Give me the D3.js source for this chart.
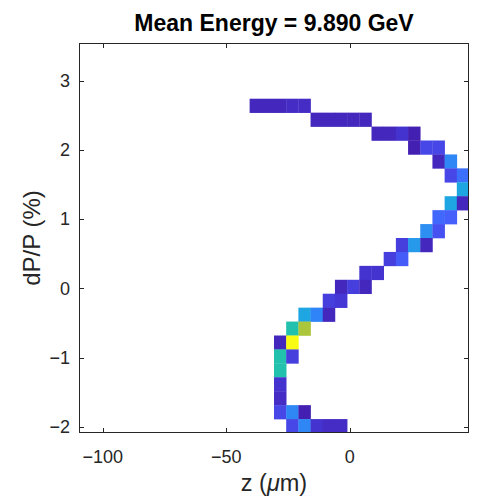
<!DOCTYPE html>
<html>
<head>
<meta charset="utf-8">
<script src="https://cdn.jsdelivr.net/npm/d3@7"></script>
<style>
  body { margin: 0; background: #fff; }
  svg { display: block; font-family: "Liberation Sans", Arial, Helvetica, sans-serif; }
</style>
</head>
<body>
<svg id="chart" width="487" height="504"></svg>
<script>
// histogram grid (imagesc covers the whole axes)
const zRange = [-109.6, 48.3];   // um
const pRange = [-2.09, 3.545];   // %
const nZ = 32;
const nP = 28;

const xTicks = [-100, -50, 0];
const yTicks = [-2, -1, 0, 1, 2, 3];

// non-empty cells: z bin index, dP/P bin index (0 = bottom), count
const cellIz = [
  14, 15, 16, 17, 18,
  19, 20, 21, 22, 23,
  24, 25, 26, 27,
  27, 28, 29,
  29, 30,
  30, 31,
  31,
  30, 31,
  29, 30,
  28, 29,
  26, 27, 28,
  25, 26,
  23, 24,
  21, 22, 23,
  20, 21,
  18, 19, 20,
  17, 18,
  16, 17,
  16, 17,
  16,
  16,
  16,
  16, 17, 18,
  17, 18, 19, 20, 21
];
const cellIp = [
  23, 23, 23, 23, 23,
  22, 22, 22, 22, 22,
  21, 21, 21, 21,
  20, 20, 20,
  19, 19,
  18, 18,
  17,
  16, 16,
  15, 15,
  14, 14,
  13, 13, 13,
  12, 12,
  11, 11,
  10, 10, 10,
  9, 9,
  8, 8, 8,
  7, 7,
  6, 6,
  5, 5,
  4,
  3,
  2,
  1, 1, 1,
  0, 0, 0, 0, 0
];
const cellCount = [
  7, 7, 7, 8, 8,
  7, 7, 7, 7, 7,
  7, 7, 10, 5,
  5, 15, 15,
  7, 32,
  15, 26,
  41,
  41, 7,
  24, 22,
  34, 18,
  13, 37, 7,
  13, 21,
  10, 10,
  7, 13, 7,
  13, 11,
  41, 31, 7,
  54, 72,
  7, 100,
  54, 13,
  54,
  10,
  8,
  15, 32, 5,
  15, 32, 10, 8, 8
];

// parula colormap stops
const parula = [
  [68, 32, 178], [69, 55, 213], [72, 77, 240], [69, 99, 253], [50, 124, 252],
  [43, 145, 239], [32, 165, 227], [8, 181, 208], [25, 191, 182], [55, 200, 151],
  [100, 205, 111], [157, 201, 67], [209, 191, 39], [248, 186, 61], [252, 207, 48],
  [246, 239, 32], [249, 251, 21]
];

const svg = d3.select("#chart");
const margin = { left: 79, right: 469, top: 43, bottom: 433 };
const ink = "#262626";

const x = d3.scaleLinear().domain(zRange).range([margin.left, margin.right]);
const y = d3.scaleLinear().domain(pRange).range([margin.bottom, margin.top]);

// bin index -> pixel (reversed range for y so index 0 is at the bottom)
const xBand = d3.scaleBand().domain(d3.range(nZ)).range([margin.left, margin.right]);
const yBand = d3.scaleBand().domain(d3.range(nP)).range([margin.bottom, margin.top]);

const cMin = d3.min(cellCount), cMax = d3.max(cellCount);
const stopT = parula.map((d, i) => cMin + (cMax - cMin) * i / (parula.length - 1));
const color = d3.scaleLinear()
  .domain(stopT)
  .range(parula.map(c => d3.rgb(c[0], c[1], c[2])))
  .interpolate(d3.interpolateRgb);

svg.append("clipPath").attr("id", "clip")
  .append("rect")
  .attr("x", margin.left).attr("y", margin.top)
  .attr("width", margin.right - margin.left)
  .attr("height", margin.bottom - margin.top);

const cells = cellCount.map((n, i) => ({ iz: cellIz[i], ip: cellIp[i], n }));

svg.append("g")
  .attr("clip-path", "url(#clip)")
  .selectAll("rect")
  .data(cells)
  .join("rect")
  .attr("x", d => xBand(d.iz))
  .attr("y", d => yBand(d.ip))
  .attr("width", xBand.bandwidth() + 0.3)
  .attr("height", yBand.bandwidth() + 0.3)
  .attr("fill", d => color(d.n));

// axes box + inward ticks on all four sides
const tickLen = 5;
const axes = svg.append("g").attr("stroke", ink).attr("fill", "none").attr("stroke-width", 1);
axes.append("rect")
  .attr("x", margin.left + 0.5).attr("y", margin.top + 0.5)
  .attr("width", margin.right - margin.left - 1)
  .attr("height", margin.bottom - margin.top - 1);

xTicks.forEach(t => {
  const px = Math.round(x(t)) + 0.5;
  axes.append("line").attr("x1", px).attr("x2", px).attr("y1", margin.bottom).attr("y2", margin.bottom - tickLen);
  axes.append("line").attr("x1", px).attr("x2", px).attr("y1", margin.top).attr("y2", margin.top + tickLen);
});
yTicks.forEach(t => {
  const py = Math.round(y(t)) + 0.5;
  axes.append("line").attr("x1", margin.left).attr("x2", margin.left + tickLen).attr("y1", py).attr("y2", py);
  axes.append("line").attr("x1", margin.right).attr("x2", margin.right - tickLen).attr("y1", py).attr("y2", py);
});

const fmt = v => (v < 0 ? "\u2212" : "") + Math.abs(v);

svg.append("g").selectAll("text")
  .data(xTicks)
  .join("text")
  .attr("x", d => x(d))
  .attr("y", 463)
  .attr("text-anchor", "middle")
  .attr("font-size", 18)
  .attr("fill", ink)
  .text(fmt);

svg.append("g").selectAll("text")
  .data(yTicks)
  .join("text")
  .attr("x", 70)
  .attr("y", d => y(d))
  .attr("dy", "0.35em")
  .attr("text-anchor", "end")
  .attr("font-size", 18)
  .attr("fill", ink)
  .text(fmt);

// labels
const xl = svg.append("text")
  .attr("x", (margin.left + margin.right) / 2)
  .attr("y", 491)
  .attr("text-anchor", "middle")
  .attr("font-size", 23.5)
  .attr("fill", ink);
xl.append("tspan").text("z (");
xl.append("tspan").attr("font-style", "italic").text("\u03bc");
xl.append("tspan").text("m)");

svg.append("text")
  .attr("transform", `translate(40,${(margin.top + margin.bottom) / 2}) rotate(-90)`)
  .attr("text-anchor", "middle")
  .attr("font-size", 24)
  .attr("fill", ink)
  .text("dP/P (%)");

svg.append("text")
  .attr("x", (margin.left + margin.right) / 2)
  .attr("y", 31)
  .attr("text-anchor", "middle")
  .attr("font-size", 23)
  .attr("font-weight", "bold")
  .attr("fill", "#000")
  .text("Mean Energy = 9.890 GeV");
</script>
</body>
</html>
